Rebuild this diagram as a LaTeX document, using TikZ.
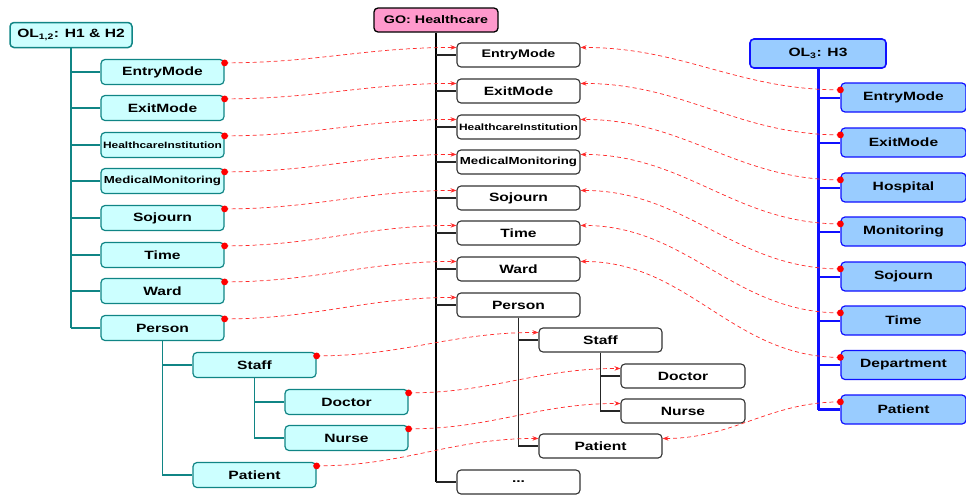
\documentclass[tikz,border=0pt]{standalone}
\usepackage{fontspec}
\setmainfont{Liberation Sans}[FakeStretch=1.3]
\usetikzlibrary{calc,arrows.meta}
\definecolor{lfill}{HTML}{CCFFFF}
\definecolor{lline}{HTML}{108585}
\definecolor{rfill}{HTML}{99CCFF}
\definecolor{rline}{HTML}{1010FF}
\definecolor{gofill}{HTML}{FF99CC}
\definecolor{linkc}{HTML}{FF2A2A}
\tikzset{
  box/.style={rectangle, rounded corners=4pt, inner sep=0pt, text=black,
    font=\bfseries\fontsize{12}{12}\selectfont},
  lbox/.style={box, draw=lline, fill=lfill, line width=1.2pt, minimum width=123pt, minimum height=25pt},
  mbox/.style={box, draw=black!80, fill=white, line width=1.1pt, minimum width=123pt, minimum height=24pt},
  rbox/.style={box, draw=rline, fill=rfill, line width=1.2pt, minimum width=125pt, minimum height=29pt},
  midtxt/.style={font=\bfseries\fontsize{11}{11}\selectfont},
  hitxt/.style={font=\bfseries\fontsize{9.2}{10}\selectfont},
  mmtxt/.style={font=\bfseries\fontsize{10.2}{10}\selectfont},
  ltrunk/.style={draw=lline, line width=2pt},
  lbranch/.style={draw=lline, line width=1.5pt},
  mtrunk/.style={draw=black, line width=2.6pt},
  mbranch/.style={draw=black!85, line width=1.5pt},
  rtrunk/.style={draw=rline, line width=3pt},
  rbranch/.style={draw=rline, line width=2pt},
  linkln/.style={draw=linkc, line width=0.7pt, dash pattern=on 4pt off 3pt,
    -{Stealth[length=6pt,width=4.5pt,fill=linkc]}},
}
\begin{document}
\begin{tikzpicture}[x=1pt,y=-1pt]
\useasboundingbox (0,0) rectangle (966,496);

% ---------- left ontology OL1,2 ----------
\node[lbox, line width=1.5pt, minimum width=122pt] (lroot) at (71,35) {OL\textsubscript{1,2}: H1 \& H2};
\node[lbox] (l1) at (162.5,72) {EntryMode};
\node[lbox] (l2) at (162.5,108) {ExitMode};
\node[lbox, hitxt] (l3) at (162.5,145) {HealthcareInstitution};
\node[lbox, mmtxt] (l4) at (162.5,181) {MedicalMonitoring};
\node[lbox] (l5) at (162.5,218) {Sojourn};
\node[lbox] (l6) at (162.5,255) {Time};
\node[lbox] (l7) at (162.5,291) {Ward};
\node[lbox] (l8) at (162.5,328) {Person};
\node[lbox] (lstaff) at (254.5,365) {Staff};
\node[lbox] (ldoc) at (346.5,402) {Doctor};
\node[lbox] (lnur) at (346.5,438) {Nurse};
\node[lbox] (lpat) at (254.5,475) {Patient};

\draw[ltrunk] (lroot.south) -- (lroot.south |- l8.west);
\foreach \n in {l1,l2,l3,l4,l5,l6,l7,l8}
  \draw[lbranch] (lroot.south |- \n.west) -- (\n.west);
\draw[lbranch] (l8.south) |- (lstaff.west);
\draw[lbranch] (l8.south) |- (lpat.west);
\draw[lbranch] (lstaff.south) |- (ldoc.west);
\draw[lbranch] (lstaff.south) |- (lnur.west);

% ---------- global ontology GO ----------
\node[box, draw=black, fill=gofill, line width=1.3pt, minimum width=124pt, minimum height=24pt, midtxt] (groot) at (436,20) {GO: Healthcare};
\node[mbox, midtxt] (m1) at (518.5,55) {EntryMode};
\node[mbox] (m2) at (518.5,91) {ExitMode};
\node[mbox, hitxt] (m3) at (518.5,127) {HealthcareInstitution};
\node[mbox, mmtxt] (m4) at (518.5,162) {MedicalMonitoring};
\node[mbox] (m5) at (518.5,198) {Sojourn};
\node[mbox] (m6) at (518.5,233) {Time};
\node[mbox] (m7) at (518.5,269) {Ward};
\node[mbox] (m8) at (518.5,305) {Person};
\node[mbox] (m9) at (518.5,482) {...};
\node[mbox] (mstaff) at (600.5,340) {Staff};
\node[mbox, minimum width=124pt] (mdoc) at (683,376) {Doctor};
\node[mbox, minimum width=124pt] (mnur) at (683,411) {Nurse};
\node[mbox] (mpat) at (600.5,446) {Patient};

\draw[mtrunk] (groot.south) -- (groot.south |- m9.west);
\foreach \n in {m1,m2,m3,m4,m5,m6,m7,m8,m9}
  \draw[mbranch] (groot.south |- \n.west) -- (\n.west);
\draw[mbranch] (m8.south) |- (mstaff.west);
\draw[mbranch] (m8.south) |- (mpat.west);
\draw[mbranch] (mstaff.south) |- (mdoc.west);
\draw[mbranch] (mstaff.south) |- (mnur.west);

% ---------- right ontology OL3 ----------
\node[rbox, line width=1.6pt, minimum width=136pt] (rroot) at (818,53.5) {OL\textsubscript{3}: H3};
\node[rbox] (r1) at (903.5,97.5) {EntryMode};
\node[rbox] (r2) at (903.5,142.5) {ExitMode};
\node[rbox] (r3) at (903.5,187.5) {Hospital};
\node[rbox] (r4) at (903.5,231.5) {Monitoring};
\node[rbox] (r5) at (903.5,276.5) {Sojourn};
\node[rbox] (r6) at (903.5,320.5) {Time};
\node[rbox] (r7) at (903.5,365) {Department};
\node[rbox] (r8) at (903.5,409.5) {Patient};

\draw[rtrunk] (rroot.south) -- (rroot.south |- r8.west);
\foreach \n in {r1,r2,r3,r4,r5,r6,r7}
  \draw[rbranch] (rroot.south |- \n.west) -- (\n.west);
\draw[rtrunk] (rroot.south |- r8.west) -- (r8.west);

% ---------- mappings ----------
\foreach \a/\b in {l1/m1,l2/m2,l3/m3,l4/m4,l5/m5,l6/m6,l7/m7,l8/m8,lstaff/mstaff,ldoc/mdoc,lnur/mnur,lpat/mpat} {
  \coordinate (s) at ($(\a.north east)+(0,4)$);
  \coordinate (e) at ($(\b.north west)+(0,5)$);
  \draw[linkln] (s) to[out=0,in=180] (e);
  \fill[red] (s) circle (3.4pt);
}
\foreach \a/\b in {r1/m1,r2/m2,r3/m3,r4/m4,r5/m5,r6/m6,r7/m7,r8/mpat} {
  \coordinate (s) at ($(\a.north west)+(0,7.5)$);
  \coordinate (e) at ($(\b.north east)+(0,5)$);
  \draw[linkln] (s) to[out=180,in=0] (e);
  \fill[red] (s) circle (3.4pt);
}
\end{tikzpicture}
\end{document}
